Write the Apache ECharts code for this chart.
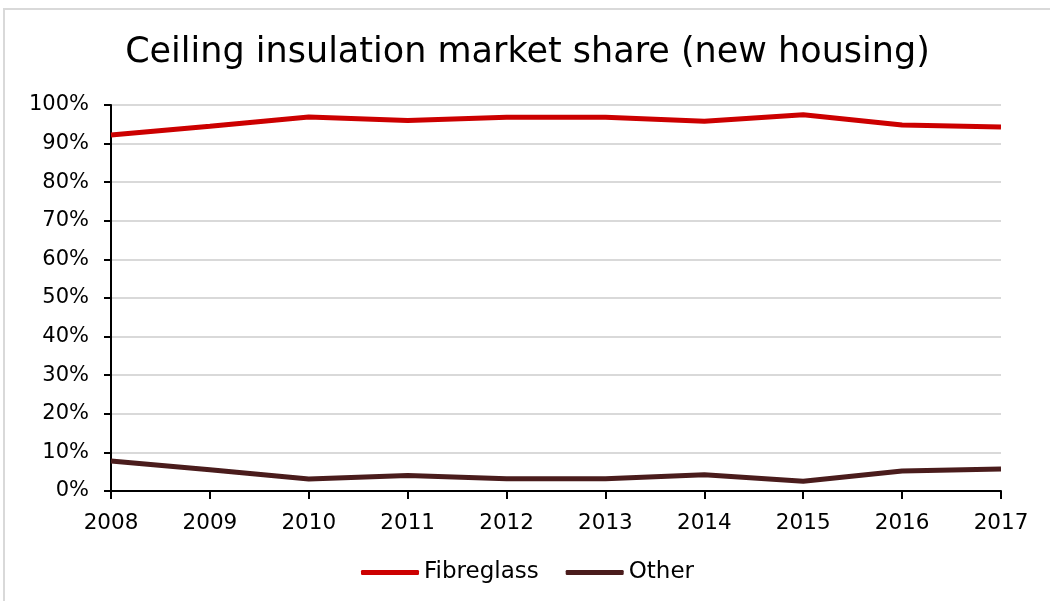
<!DOCTYPE html>
<html>
<head>
<meta charset="utf-8">
<script src="https://cdn.jsdelivr.net/npm/echarts@6/dist/echarts.min.js"></script>
<style>
  html, body { margin: 0; padding: 0; background: #fff; }
  #main {
    position: absolute; left: 3px; top: 8px;
    width: 1047px; height: 593px;
    border-top: 2px solid #d9d9d9; border-left: 2px solid #d9d9d9;
    box-sizing: border-box;
  }
</style>
</head>
<body>
<div id="main"></div>
<script>
// data
var years = ['2008', '2009', '2010', '2011', '2012', '2013', '2014', '2015', '2016', '2017'];
var fibreglass = [92.2, 94.5, 96.9, 96.0, 96.8, 96.8, 95.8, 97.5, 94.8, 94.3];
var other = [7.8, 5.5, 3.1, 4.0, 3.2, 3.2, 4.2, 2.5, 5.2, 5.7];

var myChart = echarts.init(document.getElementById('main'));

var font = 'DejaVu Sans, Liberation Sans, Arial, sans-serif';

option = {
    animation: false,
    title: {
        text: 'Ceiling insulation market share (new housing)',
        left: 'center',
        top: 20,
        textStyle: {
            fontFamily: font,
            fontSize: 35,
            fontWeight: 'normal',
            color: '#000'
        }
    },
    color: ['#cc0000', '#4a1c1c'],
    legend: {
        bottom: 12,
        left: 'center',
        itemWidth: 58,
        itemHeight: 5,
        itemGap: 27,
        icon: 'roundRect',
        textStyle: {
            fontFamily: font,
            fontSize: 23,
            color: '#000'
        },
        data: ['Fibreglass', 'Other']
    },
    grid: {
        left: 106,
        right: 49,
        top: 95,
        bottom: 110
    },
    xAxis: {
        type: 'category',
        data: years,
        boundaryGap: false,
        axisLine: { lineStyle: { color: '#000', width: 2 } },
        axisTick: { show: true, length: 8, lineStyle: { color: '#000', width: 2 } },
        axisLabel: {
            fontFamily: font,
            fontSize: 21.5,
            color: '#000',
            margin: 21
        }
    },
    yAxis: {
        type: 'value',
        min: 0,
        max: 100,
        interval: 10,
        axisLine: { show: true, lineStyle: { color: '#000', width: 2 } },
        axisTick: { show: true, length: 7, lineStyle: { color: '#000', width: 2 } },
        splitLine: { lineStyle: { color: '#d9d9d9', width: 2 } },
        axisLabel: {
            formatter: '{value}%',
            fontFamily: font,
            fontSize: 21,
            color: '#000',
            margin: 22
        }
    },
    series: [
        {
            name: 'Fibreglass',
            type: 'line',
            data: fibreglass,
            showSymbol: false,
            lineStyle: { width: 5 }
        },
        {
            name: 'Other',
            type: 'line',
            data: other,
            showSymbol: false,
            lineStyle: { width: 5 }
        }
    ]
};
myChart.setOption(option);
</script>
</body>
</html>
